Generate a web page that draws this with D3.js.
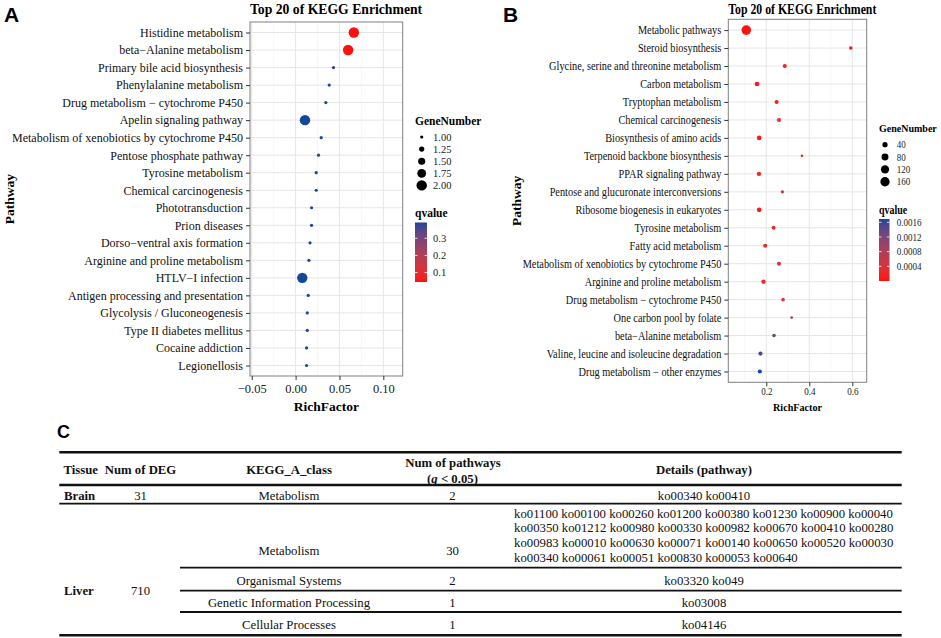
<!DOCTYPE html>
<html lang="en">
<head>
<meta charset="UTF-8">
<title>Top 20 of KEGG Enrichment</title>
<script src="https://cdnjs.cloudflare.com/ajax/libs/d3/7.8.5/d3.min.js"></script>
<style>
  body { margin: 0; background: #fff; }
  svg text { font-family: "Liberation Serif", "Times New Roman", serif; }
  .letter { font-family: "Liberation Sans", Arial, sans-serif !important; font-weight: bold; }
</style>
</head>
<body>
<svg id="fig" width="941" height="638"></svg>
<script>
// ---- panel A (brain) ----
const pathwaysA = ["Histidine metabolism", "beta\u2212Alanine metabolism", "Primary bile acid biosynthesis",
  "Phenylalanine metabolism", "Drug metabolism \u2212 cytochrome P450", "Apelin signaling pathway",
  "Metabolism of xenobiotics by cytochrome P450", "Pentose phosphate pathway", "Tyrosine metabolism",
  "Chemical carcinogenesis", "Phototransduction", "Prion diseases", "Dorso\u2212ventral axis formation",
  "Arginine and proline metabolism", "HTLV\u2212I infection", "Antigen processing and presentation",
  "Glycolysis / Gluconeogenesis", "Type II diabetes mellitus", "Cocaine addiction", "Legionellosis"];
const richA = [0.0664, 0.0599, 0.0432, 0.0383, 0.0345, 0.0107, 0.0292, 0.0261, 0.0235, 0.0235,
  0.0182, 0.0182, 0.0164, 0.0152, 0.0076, 0.0144, 0.0133, 0.0133, 0.0125, 0.0125];
const genesA = [2, 2, 1, 1, 1, 2, 1, 1, 1, 1, 1, 1, 1, 1, 2, 1, 1, 1, 1, 1];
const qA = [0.045, 0.045, 0.39, 0.39, 0.39, 0.392, 0.39, 0.39, 0.39, 0.39,
  0.39, 0.39, 0.39, 0.39, 0.392, 0.39, 0.39, 0.39, 0.39, 0.39];
const xTicksA = [-0.05, 0, 0.05, 0.10];
const sizeBreaksA = [1, 1.25, 1.5, 1.75, 2];
const qTicksA = [0.1, 0.2, 0.3];

// ---- panel B (liver) ----
const pathwaysB = ["Metabolic pathways", "Steroid biosynthesis", "Glycine, serine and threonine metabolism",
  "Carbon metabolism", "Tryptophan metabolism", "Chemical carcinogenesis", "Biosynthesis of amino acids",
  "Terpenoid backbone biosynthesis", "PPAR signaling pathway", "Pentose and glucuronate interconversions",
  "Ribosome biogenesis in eukaryotes", "Tyrosine metabolism", "Fatty acid metabolism",
  "Metabolism of xenobiotics by cytochrome P450", "Arginine and proline metabolism",
  "Drug metabolism \u2212 cytochrome P450", "One carbon pool by folate", "beta\u2212Alanine metabolism",
  "Valine, leucine and isoleucine degradation", "Drug metabolism \u2212 other enzymes"];
const richB = [0.107, 0.593, 0.286, 0.157, 0.248, 0.259, 0.167, 0.366, 0.166, 0.275,
  0.167, 0.234, 0.195, 0.259, 0.187, 0.278, 0.318, 0.236, 0.173, 0.170];
const genesB = [170, 14, 20, 30, 20, 20, 30, 5, 25, 11, 30, 18, 20, 20, 25, 14, 6, 14, 22, 22];
const qB = [0.00001, 0.00005, 0.0001, 0.00005, 0.0001, 0.0002, 0.0001, 0.0002, 0.0002, 0.0003,
  0.0001, 0.0003, 0.0003, 0.00035, 0.0003, 0.0004, 0.0006, 0.00135, 0.0015, 0.00169];
const xTicksB = [0.2, 0.4, 0.6];
const sizeBreaksB = [40, 80, 120, 160];
const qTicksB = [0.0004, 0.0008, 0.0012, 0.0016];

// ---- table C ----
const tHeader = ["Tissue", "Num of DEG", "KEGG_A_class", "Num of pathways", "Details (pathway)"];
const tTissue = ["Brain", "Liver"];
const tDeg = ["31", "710"];
const tClass = ["Metabolism", "Metabolism", "Organismal Systems", "Genetic Information Processing", "Cellular Processes"];
const tCount = ["2", "30", "2", "1", "1"];
const tDetails = [
  ["ko00340 ko00410"],
  ["ko01100 ko00100 ko00260 ko01200 ko00380 ko01230 ko00900 ko00040",
   "ko00350 ko01212 ko00980 ko00330 ko00982 ko00670 ko00410 ko00280",
   "ko00983 ko00010 ko00630 ko00071 ko00140 ko00650 ko00520 ko00030",
   "ko00340 ko00061 ko00051 ko00830 ko00053 ko00640"],
  ["ko03320 ko049"], ["ko03008"], ["ko04146"]
];

const lowCol = "#ff1010", highCol = "#14469c";
const svg = d3.select("#fig");

// squeeze text horizontally (panel B is narrower in the figure)
function squeeze(sel, f) {
  if (f === 1) return;
  sel.each(function () {
    const w = this.getComputedTextLength();
    d3.select(this).attr("textLength", w * f).attr("lengthAdjust", "spacingAndGlyphs");
  });
}

function drawPanel(p) {
  const g = svg.append("g");
  const x = d3.scaleLinear().domain(p.xDomain).range([p.left, p.right]);
  const y = d3.scalePoint().domain(p.pathways).range([p.top, p.bottom]).padding(0.6);
  const r = d3.scaleSqrt().domain(p.sizeDomain).range(p.sizeRange);
  const col = d3.scaleLinear().domain(p.qDomain).range([lowCol, highCol]).interpolate(d3.interpolateLab);

  // grid
  g.selectAll(".minor").data(p.minorTicks).join("line")
    .attr("x1", d => x(d)).attr("x2", d => x(d)).attr("y1", p.top).attr("y2", p.bottom)
    .attr("stroke", "#f2f2f2").attr("stroke-width", 0.6);
  g.selectAll(".major").data(p.xTicks).join("line")
    .attr("x1", d => x(d)).attr("x2", d => x(d)).attr("y1", p.top).attr("y2", p.bottom)
    .attr("stroke", "#e6e6e6").attr("stroke-width", 1);
  g.selectAll(".hgrid").data(p.pathways).join("line")
    .attr("x1", p.left).attr("x2", p.right).attr("y1", d => y(d)).attr("y2", d => y(d))
    .attr("stroke", "#e6e6e6").attr("stroke-width", 1);

  // points
  const data = p.pathways.map((d, i) => ({ path: d, rich: p.rich[i], genes: p.genes[i], q: p.q[i] }));
  g.selectAll("circle.pt").data(data).join("circle")
    .attr("cx", d => x(d.rich)).attr("cy", d => y(d.path)).attr("r", d => r(d.genes))
    .attr("fill", d => col(d.q));

  g.append("rect").attr("x", p.left).attr("y", p.top)
    .attr("width", p.right - p.left).attr("height", p.bottom - p.top)
    .attr("fill", "none").attr("stroke", "#808080").attr("stroke-width", 1);

  // axes
  const ya = g.append("g").attr("transform", `translate(${p.left},0)`)
    .call(d3.axisLeft(y).tickSize(4).tickPadding(3));
  ya.select(".domain").remove();
  ya.selectAll("line").attr("stroke", "#333");
  ya.selectAll("text").attr("font-size", 12).attr("fill", "#111").call(squeeze, p.sx);

  const xa = g.append("g").attr("transform", `translate(0,${p.bottom})`)
    .call(d3.axisBottom(x).tickValues(p.xTicks).tickFormat(d3.format(p.fmt)).tickSize(4).tickPadding(p.xPad));
  xa.select(".domain").remove();
  xa.selectAll("line").attr("stroke", "#333");
  xa.selectAll("text").attr("font-size", p.xFont).attr("fill", "#222").call(squeeze, p.sx);

  // titles
  g.append("text").attr("x", p.left).attr("y", p.titleY).attr("text-anchor", "start").attr("font-size", 13.7)
    .attr("font-weight", "bold").text("Top 20 of KEGG Enrichment").call(squeeze, p.sx);
  g.append("text").attr("x", (p.left + p.right) / 2).attr("y", p.xlabY).attr("text-anchor", "middle")
    .attr("font-size", p.xlabFont).attr("font-weight", "bold").text("RichFactor").call(squeeze, p.xlabSx);
  g.append("text").attr("transform", `translate(${p.ylabX},${(p.top + p.bottom) / 2}) rotate(-90)`)
    .attr("text-anchor", "middle").attr("font-size", 13.5).attr("font-weight", "bold").text("Pathway");

  // size legend
  const L = p.legend;
  g.append("text").attr("x", L.x).attr("y", L.sizeTitleY).attr("font-size", L.titleFont)
    .attr("font-weight", "bold").text("GeneNumber");
  const se = g.selectAll(".sz").data(p.sizeBreaks).join("g")
    .attr("transform", (d, i) => `translate(0,${L.sizeY0 + i * L.sizeStep})`);
  se.append("circle").attr("cx", L.dotX).attr("r", d => r(d)).attr("fill", "#000");
  se.append("text").attr("x", L.labX).attr("dy", "0.35em").attr("font-size", 10.5)
    .attr("fill", "#222").text(d => d3.format(p.sizeFmt)(d)).call(squeeze, p.sx);

  // colour bar
  g.append("text").attr("x", L.x).attr("y", L.qTitleY).attr("font-size", 11.5)
    .attr("font-weight", "bold").text("qvalue").call(squeeze, p.sx);
  const gid = "grad" + p.id;
  const grad = svg.append("defs").append("linearGradient").attr("id", gid)
    .attr("x1", 0).attr("y1", 1).attr("x2", 0).attr("y2", 0);
  d3.range(0, 1.0001, 0.05).forEach(t => {
    grad.append("stop").attr("offset", t)
      .attr("stop-color", col(p.qDomain[0] + t * (p.qDomain[1] - p.qDomain[0])));
  });
  const qy = d3.scaleLinear().domain(p.qDomain).range([L.barBottom, L.barTop]);
  g.append("rect").attr("x", L.x).attr("y", L.barTop).attr("width", L.barW)
    .attr("height", L.barBottom - L.barTop).attr("fill", `url(#${gid})`);
  const qt = g.selectAll(".qt").data(p.qTicks).join("g").attr("transform", d => `translate(0,${qy(d)})`);
  qt.append("line").attr("x1", L.x).attr("x2", L.x + 2.5).attr("stroke", "#fff").attr("stroke-width", 0.8);
  qt.append("line").attr("x1", L.x + L.barW - 2.5).attr("x2", L.x + L.barW).attr("stroke", "#fff").attr("stroke-width", 0.8);
  qt.append("text").attr("x", L.labX).attr("dy", "0.35em").attr("font-size", 10.5)
    .attr("fill", "#222").text(d => d3.format(p.qFmt)(d)).call(squeeze, p.sx);
}

drawPanel({
  id: "A", pathways: pathwaysA, rich: richA, genes: genesA, q: qA,
  left: 250, right: 402.7, top: 22, bottom: 376,
  xDomain: [-0.052, 0.1221], xTicks: xTicksA, minorTicks: [-0.025, 0.025, 0.075], fmt: ".2f",
  xFont: 12.5, xPad: 4.4, sizeDomain: [1, 2], sizeRange: [1.6, 5.2], qDomain: [0.045, 0.392],
  sizeBreaks: sizeBreaksA, sizeFmt: ".2f", qTicks: qTicksA, qFmt: ".1f", sx: 1,
  titleY: 14, xlabY: 411, xlabFont: 13.5, xlabSx: 1, ylabX: 14,
  legend: { x: 415, titleFont: 11.5, sizeTitleY: 125, sizeY0: 137, sizeStep: 12.1, dotX: 421.7, labX: 433,
            qTitleY: 217, barTop: 222.5, barBottom: 282, barW: 12 }
});

drawPanel({
  id: "B", pathways: pathwaysB, rich: richB, genes: genesB, q: qB,
  left: 728.3, right: 866.7, top: 19.3, bottom: 382.3,
  xDomain: [0.0233, 0.667], xTicks: xTicksB, minorTicks: [0.1, 0.3, 0.5], fmt: ".1f",
  xFont: 10.5, xPad: 1.2, sizeDomain: [5, 170], sizeRange: [1.3, 4.8], qDomain: [0, 0.00169],
  sizeBreaks: sizeBreaksB, sizeFmt: "d", qTicks: qTicksB, qFmt: ".4f", sx: 0.86,
  titleY: 13.5, xlabY: 411, xlabFont: 11, xlabSx: 0.92, ylabX: 521,
  legend: { x: 879, titleFont: 10, sizeTitleY: 132, sizeY0: 144.7, sizeStep: 12.35, dotX: 885, labX: 896.7,
            qTitleY: 213.5, barTop: 219, barBottom: 281, barW: 10.5 }
});

// panel letters
svg.append("text").attr("class", "letter").attr("x", 4).attr("y", 22).attr("font-size", 21).text("A");
svg.append("text").attr("class", "letter").attr("x", 503).attr("y", 22).attr("font-size", 21).text("B");
svg.append("text").attr("class", "letter").attr("x", 57).attr("y", 438).attr("font-size", 18).text("C");

// ---- table C ----
const tab = svg.append("g");
const tL = 59.3, tR = 901.7, subL = 180;
const colX = { tissue: 64, deg: 140.5, cls: 289, cnt: 452.5, det: 704 };
const rules = [
  { y: 452.3, x1: tL, w: 2.6 }, { y: 485, x1: tL, w: 2.6 }, { y: 503.7, x1: tL, w: 1.8 },
  { y: 567.7, x1: subL, w: 1.8 }, { y: 590.7, x1: subL, w: 1.8 }, { y: 612, x1: subL, w: 1.8 },
  { y: 635.3, x1: tL, w: 2.6 }
];
tab.selectAll("line").data(rules).join("line")
  .attr("x1", d => d.x1).attr("x2", tR).attr("y1", d => d.y).attr("y2", d => d.y)
  .attr("stroke", "#111").attr("stroke-width", d => d.w);

function cell(x, y, txt, anchor, bold) {
  return tab.append("text").attr("x", x).attr("y", y + 4.4).attr("text-anchor", anchor)
    .attr("font-size", 12.75).attr("font-weight", bold ? "bold" : "normal").attr("fill", "#111").text(txt);
}
// header
cell(colX.tissue - 0.5, 470, tHeader[0], "start", true);
cell(colX.deg, 470, tHeader[1], "middle", true);
cell(colX.cls, 470, tHeader[2], "middle", true);
cell(colX.cnt + 0.5, 462.7, tHeader[3], "middle", true);
const qh = cell(colX.cnt, 478.3, "(", "middle", true);
qh.append("tspan").attr("font-style", "italic").text("q");
qh.append("tspan").text(" < 0.05)");
cell(colX.det, 470, tHeader[4], "middle", true);

// body
const rowY = [496, 550.7, 581, 602.7, 624.3];
const tissueY = [496, 591];
tTissue.forEach((t, i) => {
  cell(colX.tissue, tissueY[i], t, "start", true);
  cell(colX.deg, tissueY[i], tDeg[i], "middle", false);
});
tClass.forEach((c, i) => {
  cell(colX.cls, rowY[i], c, "middle", false);
  cell(colX.cnt, rowY[i], tCount[i], "middle", false);
  const lines = tDetails[i];
  if (lines.length > 1) {
    lines.forEach((l, j) => cell(514, 513.3 + j * 14.67, l, "start", false));
  } else {
    cell(colX.det, rowY[i], lines[0], "middle", false);
  }
});
</script>
</body>
</html>
